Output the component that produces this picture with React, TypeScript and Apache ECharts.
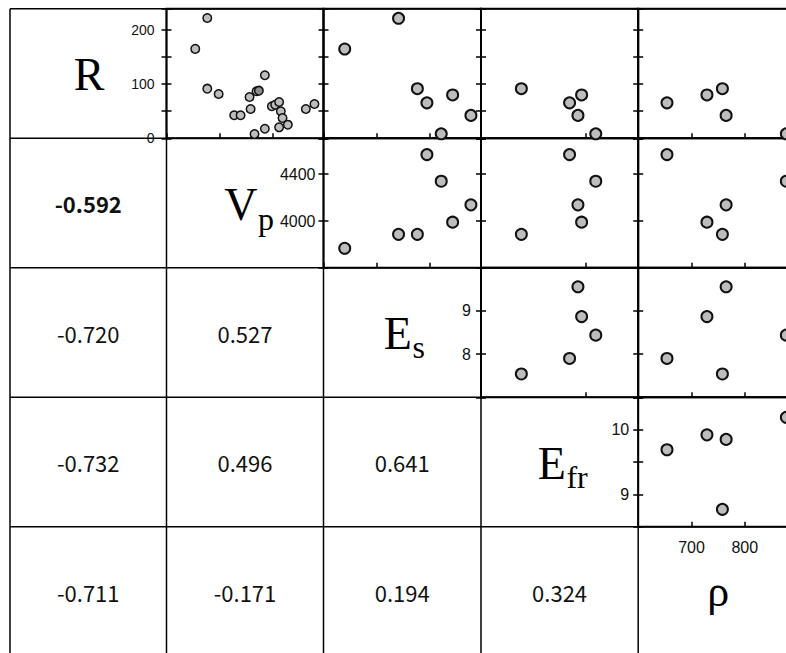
import React, { useEffect, useRef } from 'react';
import * as echarts from 'echarts';

// ---------- DATA ----------
// matrix variables (order of rows / columns)
const varLabels = ['R', 'V', 'E', 'E', 'ρ'];
const varSubs = ['', 'p', 's', 'fr', ''];

// seven samples measured for all properties (null = not available)
const sampleR = [65.5, 80, 91.5, 42.3, 8.3, 221.5, 164.8];
const sampleVp = [4568, 3990, 3886, 4138, 4340, 3886, 3767];
const sampleEs = [7.9, 8.87, 7.54, 9.56, 8.44, 6.83, 4.8];
const sampleEfr = [9.69, 9.92, 8.77, 9.85, 10.19, null, null];
const sampleRho = [654, 729, 758, 765, 878, null, null];

// R vs Vp panel (larger set of measurements)
const rvpVp = [3883, 3770, 3883, 3990, 4136, 4196, 4280, 4290, 4346, 4368, 4424, 4327, 4424, 4490, 4521, 4558, 4574, 4590, 4558, 4640, 4809, 4890];
const rvpR = [222, 165, 91.6, 81.8, 42.5, 42.5, 76.3, 54.1, 86.8, 87.9, 116.3, 7.9, 17.7, 59.1, 62, 67, 49.9, 37.5, 20.3, 25.1, 54.1, 63.3];

// correlation coefficients, lower triangle (row variable vs earlier columns)
const corrVp = [-0.592];
const corrEs = [-0.72, 0.527];
const corrEfr = [-0.732, 0.496, 0.641];
const corrRho = [-0.711, -0.171, 0.194, 0.324];

// axis scales per variable (x = column role, y = row role)
const xAxisMin = [null, 3500, 4, 8, 600];
const xAxisMax = [null, 4975, 9.94, 11, 895];
const xAxisStep = [null, 500, 2, 2, 100];
const xTickLabels = [[], [], [], [], [700, 800]];
const yAxisMin = [0, 3600, 7, 8.5, null];
const yAxisMax = [239, 4707, 10, 10.5, null];
const yAxisStep = [50, 400, 1, 0.5, null];
const yTickLabels = [[0, 100, 200], [4000, 4400], [8, 9], [9, 10], []];

// ---------- LAYOUT ----------
const colX = [10, 166.5, 323.5, 481, 638.2, 795.4];
const rowY = [8.8, 138.3, 267.8, 397.3, 526.8, 656.3];
const yLabelMargin = [17, 13, 15, 14];
const yLabelSize = [14, 16, 16, 16];
const serif = '"Liberation Serif", "Times New Roman", serif';

const sampleCols = [sampleR, sampleVp, sampleEs, sampleEfr, sampleRho];
const corrRows = [[], corrVp, corrEs, corrEfr, corrRho];

const diagMain = [
  { x: 89, y: 74, align: 'center', size: 46 },
  { x: 224.3, y: 204, align: 'left', size: 46 },
  { x: 383.8, y: 333, align: 'left', size: 46 },
  { x: 537.8, y: 463, align: 'left', size: 46 },
  { x: 718.3, y: 591.5, align: 'center', size: 44 },
];
const diagSubY = [0, 218.5, 346.5, 476.5, 0];

function measure(text: string, font: string): number {
  const ctx = document.createElement('canvas').getContext('2d');
  if (!ctx) return text.length * 20;
  ctx.font = font;
  return ctx.measureText(text).width;
}

function buildOption() {
  const grid: any[] = [];
  const xAxis: any[] = [];
  const yAxis: any[] = [];
  const series: any[] = [];
  let k = 0;
  for (let i = 0; i < 4; i++) {
    for (let j = i + 1; j < 5; j++) {
      const adjacent = j === i + 1;
      grid.push({
        left: colX[j],
        top: rowY[i],
        width: colX[j + 1] - colX[j],
        height: rowY[i + 1] - rowY[i],
        show: true,
        borderColor: '#000',
        borderWidth: 2,
        backgroundColor: 'transparent',
        containLabel: false,
        outerBoundsMode: 'none',
      });
      const xl = xTickLabels[j];
      xAxis.push({
        gridIndex: k,
        type: 'value',
        min: xAxisMin[j],
        max: xAxisMax[j],
        interval: xAxisStep[j],
        axisLine: { show: false, onZero: false },
        axisTick: { show: true, inside: true, length: 5, lineStyle: { color: '#000', width: 1.5 } },
        splitLine: { show: false },
        axisLabel: {
          show: adjacent && xl.length > 0,
          margin: 13,
          fontSize: 16,
          fontFamily: '"Liberation Sans", Arial, sans-serif',
          color: '#111',
          formatter: (v: number) => (xl.includes(v) ? String(v) : ''),
        },
      });
      const yl = yTickLabels[i];
      yAxis.push({
        gridIndex: k,
        type: 'value',
        min: yAxisMin[i],
        max: yAxisMax[i],
        interval: yAxisStep[i],
        offset: -5,
        axisLine: { show: false, onZero: false },
        axisTick: { show: true, inside: false, length: 10, lineStyle: { color: '#000', width: 1.5 } },
        splitLine: { show: false },
        axisLabel: {
          show: adjacent,
          margin: yLabelMargin[i],
          fontSize: yLabelSize[i],
          fontFamily: '"Liberation Sans", Arial, sans-serif',
          color: '#111',
          formatter: (v: number) => (yl.includes(v) ? String(v) : ''),
        },
      });
      let data: any[] = [];
      let size = 11;
      let bw = 2;
      if (i === 0 && j === 1) {
        data = rvpVp.map((v, n) =>
          n === 9 ? { value: [v, rvpR[n]], itemStyle: { color: '#8c8c8c' } } : [v, rvpR[n]]
        );
        size = 8.5;
        bw = 1.5;
      } else {
        const xs = sampleCols[j];
        const ys = sampleCols[i];
        for (let n = 0; n < xs.length; n++) {
          if (xs[n] != null && ys[n] != null) data.push([xs[n], ys[n]]);
        }
      }
      series.push({
        type: 'scatter',
        xAxisIndex: k,
        yAxisIndex: k,
        data,
        symbol: 'circle',
        symbolSize: size,
        silent: true,
        itemStyle: { color: '#bdbdbd', borderColor: '#111', borderWidth: bw, opacity: 1 },
      });
      k++;
    }
  }

  const elements: any[] = [];
  for (let r = 0; r < 5; r++) {
    elements.push({
      type: 'line',
      shape: { x1: colX[0], y1: rowY[r], x2: 800, y2: rowY[r] },
      style: { stroke: '#000', lineWidth: 1.5 },
      silent: true,
    });
  }
  for (let c = 0; c < 5; c++) {
    elements.push({
      type: 'line',
      shape: { x1: colX[c], y1: rowY[0], x2: colX[c], y2: 660 },
      style: { stroke: '#000', lineWidth: 1.5 },
      silent: true,
    });
  }
  for (let d = 0; d < 5; d++) {
    const m = diagMain[d];
    elements.push({
      type: 'text',
      x: m.x,
      y: m.y,
      silent: true,
      style: {
        text: varLabels[d],
        fontSize: m.size,
        fontFamily: serif,
        fill: '#000',
        align: m.align,
        verticalAlign: 'middle',
      },
    });
    if (varSubs[d]) {
      const w = measure(varLabels[d], `${m.size}px ${serif}`);
      elements.push({
        type: 'text',
        x: m.x + w + 0.5,
        y: diagSubY[d],
        silent: true,
        style: {
          text: varSubs[d],
          fontSize: 32,
          fontFamily: serif,
          fill: '#000',
          align: 'left',
          verticalAlign: 'middle',
        },
      });
    }
  }
  for (let r = 1; r < 5; r++) {
    const vals = corrRows[r];
    for (let c = 0; c < vals.length; c++) {
      elements.push({
        type: 'text',
        x: (colX[c] + colX[c + 1]) / 2,
        y: (rowY[r] + rowY[r + 1]) / 2,
        silent: true,
        style: {
          text: vals[c].toFixed(3),
          fontSize: 22,
          fontWeight: r === 1 && c === 0 ? 'bold' : 'normal',
          fontFamily: '"Noto Sans CJK JP", "Noto Sans", sans-serif',
          fill: '#111',
          align: 'center',
          verticalAlign: 'middle',
        },
      });
    }
  }

  return {
    animation: false,
    backgroundColor: '#fff',
    grid,
    xAxis,
    yAxis,
    series,
    graphic: { elements },
  };
}

export default function App() {
  const ref = useRef<HTMLDivElement>(null);
  useEffect(() => {
    if (!ref.current) return;
    const chart = echarts.init(ref.current, null, { renderer: 'svg' });
    chart.setOption(buildOption() as any);
    return () => chart.dispose();
  }, []);
  return (
    <div
      ref={ref}
      style={{ position: 'fixed', left: 0, top: 0, width: 786, height: 653, background: '#fff' }}
    />
  );
}
